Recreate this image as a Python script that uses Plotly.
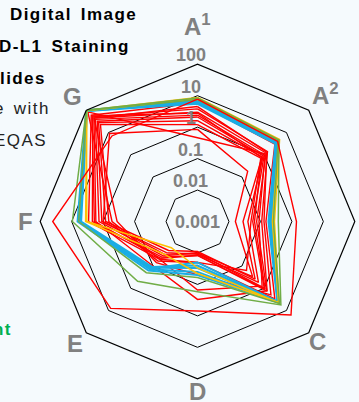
import math
import plotly.graph_objects as go

# Spoke labels, clockwise from the top
axis_labels = ["A<sup>1</sup>", "A<sup>2</sup>", "B", "C", "D", "E", "F", "G"]

# Radial (log) tick labels
tick_values = [100, 10, 1, 0.1, 0.01, 0.001]
tick_labels = ["100", "10", "1", "0.1", "0.01", "0.001"]

# Series values, one list per line, in the order of axis_labels
red_series = [
    [0.85, 0.18, 0.016, 0.3, 0.01, 0.03, 1.0, 9.0],
    [5.9, 3.0, 0.15, 3.0, 0.02, 0.05, 2.9, 60],
    [3.8, 1.4, 0.11, 1.35, 0.012, 0.04, 2.2, 51],
    [3.0, 1.2, 0.076, 1.3, 0.3, 0.1, 1.7, 45],
    [2.4, 1.0, 0.057, 1.0, 0.01, 0.035, 1.35, 39],
    [2.1, 0.9, 0.04, 0.55, 0.011, 0.025, 1.1, 32],
    [1.6, 0.8, 0.028, 0.39, 0.009, 0.02, 0.83, 28],
    [1.2, 0.7, 0.05, 0.16, 0.02, 0.06, 0.66, 23],
    [0.46, 1.1, 0.09, 0.8, 0.15, 0.05, 0.52, 85],
    [4.5, 1.3, 0.13, 2.0, 0.05, 0.07, 0.36, 45],
    [2.8, 0.75, 0.065, 1.1, 0.012, 0.045, 1.9, 55],
]
red_outlier = [7.8, 4.0, 1.4, 16, 0.7, 8.0, 40, 7.0]

blue_series = [
    [6.0, 3.3, 0.20, 4.0, 0.03, 0.12, 5.5, 95],
    [6.5, 3.5, 0.22, 4.2, 0.04, 0.14, 6.0, 98],
    [5.5, 3.2, 0.18, 3.9, 0.025, 0.11, 5.0, 92],
    [7.0, 3.7, 0.24, 4.4, 0.05, 0.16, 6.5, 100],
    [6.2, 3.4, 0.21, 4.1, 0.02, 0.13, 5.8, 96],
]
green_series = [
    [8.5, 4.6, 0.37, 5.6, 0.17, 0.49, 9.5, 100],
    [7.5, 4.2, 0.26, 4.8, 0.06, 0.2, 6.0, 97],
]
orange_series = [
    [8.8, 4.9, 0.28, 4.6, 0.03, 0.015, 3.3, 98],
    [8.0, 4.5, 0.24, 4.4, 0.045, 0.03, 3.6, 95],
]

# Side text (left column, partly outside the page)
side_lines = ["Digital Image", "D-L1 Staining", "lides", "e with", "EQAS", "nt"]

BG = "#F5FAFD"
GRAY = "#808080"
FONT = "Liberation Sans, Arial, sans-serif"

# Page size and radar geometry (pixels)
W, H = 359, 402
CX, CY, R = 197.5, 221.5, 157.3
DECADES = 5  # radial log range spans 0.001 .. 100

# Distance of each spoke name from the centre, as a multiple of the outer radius
label_dist = [1.25, 1.15, 1.12, 1.083, 1.078, 1.10, 1.093, 1.121]

fig = go.Figure()


def closed(vals):
    return list(vals) + [vals[0]]


theta_closed = closed(axis_labels)


def add_line(vals, color, width):
    fig.add_trace(go.Scatterpolar(
        r=closed(vals), theta=theta_closed, mode="lines",
        line=dict(color=color, width=width),
        showlegend=False, hoverinfo="skip",
    ))


for s in red_series:
    add_line(s, "#FF0000", 1.4)
for s in blue_series:
    add_line(s, "#1AADE4", 2.0)
for s in orange_series:
    add_line(s, "#FFC000", 1.5)
for s in green_series:
    add_line(s, "#70AD47", 1.5)
add_line(red_outlier, "#FF0000", 1.4)

fig.update_layout(
    width=W, height=H,
    margin=dict(l=0, r=0, t=0, b=0),
    paper_bgcolor=BG,
    plot_bgcolor="rgba(0,0,0,0)",
    polar=dict(
        domain=dict(x=[(CX - R) / W, (CX + R) / W],
                    y=[1 - (CY + R) / H, 1 - (CY - R) / H]),
        bgcolor=BG,
        gridshape="linear",
        hole=0,
        radialaxis=dict(
            type="log", range=[-3, 2], dtick=1,
            showticklabels=False, ticks="", showline=False,
            gridcolor="black", gridwidth=1, angle=90,
        ),
        angularaxis=dict(
            direction="clockwise", rotation=90,
            categoryorder="array", categoryarray=axis_labels,
            showgrid=False, showline=True, linecolor="black", linewidth=1.2,
            ticks="", showticklabels=False,
        ),
    ),
    # Invisible helper axes over the whole page, centred on the radar:
    # x/y in units of the outer radius, y2 on the same log scale as the radial axis
    xaxis=dict(visible=False, domain=[0, 1], range=[-CX / R, (W - CX) / R]),
    yaxis=dict(visible=False, domain=[0, 1], range=[-(H - CY) / R, CY / R]),
    yaxis2=dict(visible=False, domain=[0, 1], type="log", overlaying="y",
                range=[-3 - (H - CY) / R * DECADES, -3 + CY / R * DECADES]),
)

# Radial tick labels along the top spoke (sitting just left of it)
for v, t in zip(tick_values, tick_labels):
    centre = v == tick_values[-1]
    fig.add_annotation(
        x=0, y=math.log10(v), xref="x", yref="y2",
        text="<b>%s</b>" % t, showarrow=False,
        xanchor="center", yanchor="middle" if centre else "bottom",
        xshift=0 if centre else -7,
        yshift=0 if centre else -3,
        font=dict(size=18, color=GRAY, family=FONT),
    )

# Spoke names
for i, (lab, f) in enumerate(zip(axis_labels, label_dist)):
    a = math.radians(i * 360 / len(axis_labels))
    fig.add_annotation(
        x=f * math.sin(a), y=f * math.cos(a), xref="x", yref="y",
        text="<b>%s</b>" % lab, showarrow=False,
        xanchor="center", yanchor="middle",
        font=dict(size=24, color=GRAY, family=FONT),
    )

# Left-hand text block, right-aligned so the start of each line runs off the page
side_style = [
    (138, 15, True, "black"),
    (130, 46, True, "black"),
    (46, 78, True, "black"),
    (50, 109, False, "#222222"),
    (48, 140, False, "#222222"),
    (13, 329, True, "#00B050"),
]
for text, (xr, yc, bold, color) in zip(side_lines, side_style):
    spaced = "\u200a".join(text).replace(" ", "\u200a \u200a")
    fig.add_annotation(
        x=xr / W, y=1 - yc / H, xref="paper", yref="paper",
        xanchor="right", yanchor="middle", showarrow=False,
        text=spaced,
        font=dict(size=17, color=color, family=FONT,
                  weight="bold" if bold else "normal"),
    )

fig.write_html("out.html")
